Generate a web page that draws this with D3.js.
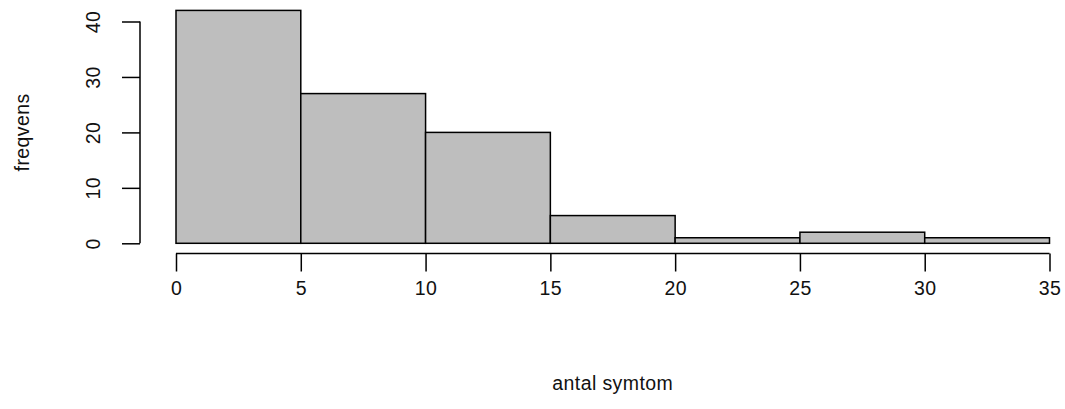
<!DOCTYPE html>
<html>
    <head>
        <style>
            body { margin: 0; background: white; }
            .barre {
                fill: #bebebe;
                stroke: black;
                stroke-width: 1.5;
            }
            .axe path, .axe line {
                stroke: black;
                stroke-width: 1.5;
            }
            .axe text, .titre {
                font-family: "Liberation Sans", Arial, sans-serif;
                font-size: 19.5px;
                letter-spacing: 0.4px;
                fill: #111;
            }
        </style>
    </head>
    <body>
        <div id="graphique"></div>
        <script src="https://cdn.jsdelivr.net/npm/d3@7"></script>
        <script>

//////////////////// donnees ////////////////////
let bornes = [0, 5, 10, 15, 20, 25, 30, 35];
let freqvens = [42, 27, 20, 5, 1, 2, 1];
let x_ticks = [0, 5, 10, 15, 20, 25, 30, 35];
let y_ticks = [0, 10, 20, 30, 40];
let x_titre = 'antal symtom';
let y_titre = 'freqvens';

//////////////////// dimensions ////////////////////
let W = 1065;
let H = 409;

let x = d3.scaleLinear().domain([0, 35]).range([176, 1049.5]);
let y = d3.scaleLinear().domain([0, 40]).range([243.3, 21.5]);

let svg = d3.select('#graphique').append('svg')
    .attr('width', W)
    .attr('height', H);

// barres
let barres = freqvens.map((f, i) => ({x0: bornes[i], x1: bornes[i+1], f: f}));
svg.append('g').selectAll('rect')
    .data(barres)
    .join('rect')
    .classed('barre', true)
    .attr('x', d => x(d.x0))
    .attr('y', d => y(d.f))
    .attr('width', d => x(d.x1) - x(d.x0))
    .attr('height', d => y(0) - y(d.f));

// axe x
let axe_x = svg.append('g')
    .classed('axe', true)
    .attr('transform', 'translate(0, 253.5)')
    .call(d3.axisBottom(x).tickValues(x_ticks).tickSizeOuter(0).tickSizeInner(18).tickPadding(10));
axe_x.select('.domain').attr('d', `M ${x(0)} 0 H ${x(35)}`);

// axe y
let axe_y = svg.append('g')
    .classed('axe', true)
    .attr('transform', 'translate(140, 0)')
    .call(d3.axisLeft(y).tickValues(y_ticks).tickSizeOuter(0).tickSizeInner(18));
axe_y.select('.domain').attr('d', `M 0 ${y(0)} V ${y(40)}`);
axe_y.selectAll('.tick text')
    .attr('x', 0)
    .attr('dy', null)
    .attr('text-anchor', 'middle')
    .attr('transform', 'translate(-47, 0) rotate(-90)')
    .attr('dominant-baseline', 'central');

// titres
svg.append('text')
    .classed('titre', true)
    .attr('x', (x(0) + x(35)) / 2)
    .attr('y', 383)
    .attr('text-anchor', 'middle')
    .attr('dominant-baseline', 'central')
    .text(x_titre);

svg.append('text')
    .classed('titre', true)
    .attr('text-anchor', 'middle')
    .attr('dominant-baseline', 'central')
    .attr('transform', `translate(22, ${(y(0) + y(40)) / 2}) rotate(-90)`)
    .text(y_titre);

        </script>
    </body>
</html>
